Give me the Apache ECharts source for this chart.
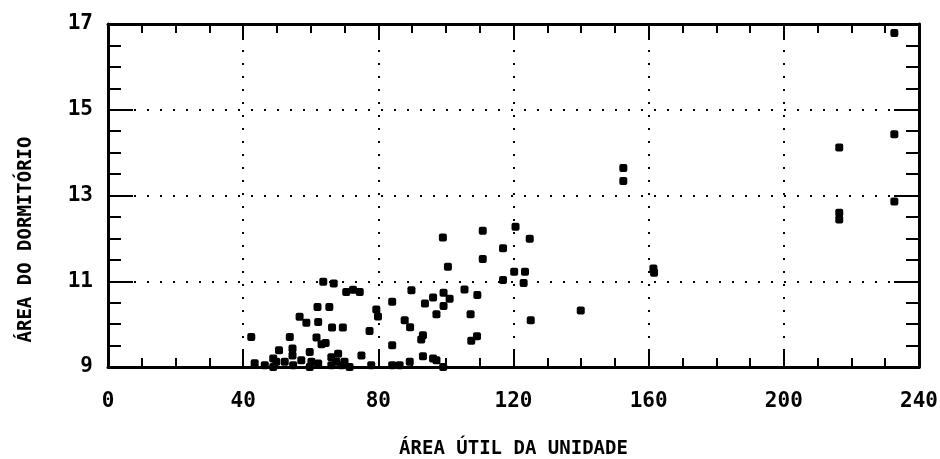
<!DOCTYPE html>
<html>
<head>
<meta charset="utf-8">
<script src="https://cdn.jsdelivr.net/npm/echarts@6/dist/echarts.min.js"></script>
<style>
  html, body { margin: 0; padding: 0; background: #fff; }
  #chart { width: 940px; height: 459px; }
</style>
</head>
<body>
<div id="chart"></div>
<script>
// área útil (x) e área do dormitório (y)
var areaUtil = [
	42.4, 43.4, 46.4, 48.9, 48.9, 49.8, 50.6, 52.3, 53.8, 54.6,
	54.6, 54.8, 56.7, 57.2, 58.7, 59.7, 59.7, 60.2, 61.7, 62.2,
	62.2, 62.0, 63.2, 63.7, 64.4, 65.5, 66.1, 66.1, 66.3, 66.8,
	67.6, 68.1, 69.1, 69.5, 70.5, 70.0, 71.5, 72.5, 74.5, 75.0,
	77.4, 77.9, 79.4, 79.9, 84.1, 84.1, 84.1, 86.3, 87.8, 89.4,
	89.3, 89.8, 92.7, 93.2, 93.2, 93.8, 96.2, 96.2, 97.2, 97.2,
	99.2, 99.3, 101.1, 99.3, 100.6, 99.1, 105.5, 107.3, 107.5, 109.2,
	109.3, 110.9, 110.9, 116.9, 116.9, 120.6, 120.2, 123.4, 123.0, 124.8,
	125.1, 139.9, 152.5, 152.5, 161.4, 161.6, 216.4, 216.4, 216.4, 232.7,
	232.7, 232.7
];
var areaDorm = [
	9.70, 9.09, 9.04, 9.00, 9.20, 9.12, 9.39, 9.12, 9.70, 9.43,
	9.27, 9.04, 10.17, 9.16, 10.03, 9.35, 9.00, 9.12, 9.69, 10.05,
	9.08, 10.40, 9.53, 10.99, 9.56, 10.40, 9.23, 9.04, 9.92, 10.95,
	9.12, 9.31, 9.04, 9.92, 10.75, 9.12, 9.00, 10.80, 10.75, 9.27,
	9.84, 9.04, 10.34, 10.18, 10.52, 9.51, 9.04, 9.04, 10.09, 9.93,
	9.12, 10.79, 9.64, 9.74, 9.25, 10.48, 10.62, 9.20, 10.23, 9.16,
	9.00, 10.73, 10.59, 10.42, 11.34, 12.02, 10.81, 10.23, 9.61, 9.72,
	10.68, 12.18, 11.52, 11.77, 11.03, 12.27, 11.22, 11.22, 10.96, 11.99,
	10.09, 10.32, 13.64, 13.34, 11.30, 11.20, 14.12, 12.60, 12.44, 16.79,
	14.43, 12.86
];
var xTicks = [0, 40, 80, 120, 160, 200, 240];
var yTicks = [9, 11, 13, 15, 17];

var pontos = areaUtil.map(function(x, i) {
	return [x, areaDorm[i]];
});

var fonte = 'DejaVu Sans Mono';

function eixoX(pos, comLabel) {
	return {
		type: 'value',
		position: pos,
		min: xTicks[0],
		max: xTicks[xTicks.length - 1],
		interval: 40,
		axisLine: { show: true, onZero: false, lineStyle: { color: '#000', width: 3 } },
		axisTick: { show: true, inside: true, length: 16, lineStyle: { color: '#000', width: 2 } },
		minorTick: { show: true, splitNumber: 4, length: 9, lineStyle: { color: '#000', width: 2 } },
		axisLabel: {
			show: comLabel,
			margin: 24,
			color: '#000',
			fontFamily: fonte,
			fontWeight: 'bold',
			fontSize: 21
		},
		splitLine: {
			show: comLabel,
			lineStyle: { color: '#000', width: 2, type: [2, 11] }
		}
	};
}

function eixoY(pos, comLabel) {
	return {
		type: 'value',
		position: pos,
		min: yTicks[0],
		max: yTicks[yTicks.length - 1],
		interval: 2,
		axisLine: { show: true, onZero: false, lineStyle: { color: '#000', width: 3 } },
		axisTick: { show: true, inside: true, length: 25, lineStyle: { color: '#000', width: 2 } },
		minorTick: { show: true, splitNumber: 4, length: 13, lineStyle: { color: '#000', width: 2 } },
		axisLabel: {
			show: comLabel,
			margin: 15,
			color: '#000',
			fontFamily: fonte,
			fontWeight: 'bold',
			fontSize: 21
		},
		splitLine: {
			show: comLabel,
			lineStyle: { color: '#000', width: 2, type: [2, 11] }
		}
	};
}

var xPrincipal = eixoX('bottom', true);
xPrincipal.name = 'ÁREA ÚTIL DA UNIDADE';
xPrincipal.nameLocation = 'middle';
xPrincipal.nameGap = 73;
xPrincipal.nameTextStyle = { color: '#000', fontFamily: fonte, fontWeight: 'bold', fontSize: 19 };

var yPrincipal = eixoY('left', true);
yPrincipal.name = 'ÁREA DO DORMITÓRIO';
yPrincipal.nameLocation = 'middle';
yPrincipal.nameRotate = 90;
yPrincipal.nameGap = 72;
yPrincipal.nameTextStyle = { color: '#000', fontFamily: fonte, fontWeight: 'bold', fontSize: 19, padding: [0, 88, 0, 0] };

var option = {
	animation: false,
	backgroundColor: '#fff',
	grid: { left: 108, right: 21, top: 24, bottom: 92, containLabel: false, outerBoundsMode: 'none' },
	xAxis: [xPrincipal, eixoX('top', false)],
	yAxis: [yPrincipal, eixoY('right', false)],
	series: [{
		type: 'scatter',
		xAxisIndex: 0,
		yAxisIndex: 0,
		symbol: 'roundRect',
		symbolSize: 8,
		itemStyle: { color: '#000', opacity: 1 },
		data: pontos
	}]
};

var chart = echarts.init(document.getElementById('chart'));
chart.setOption(option);
</script>
</body>
</html>
